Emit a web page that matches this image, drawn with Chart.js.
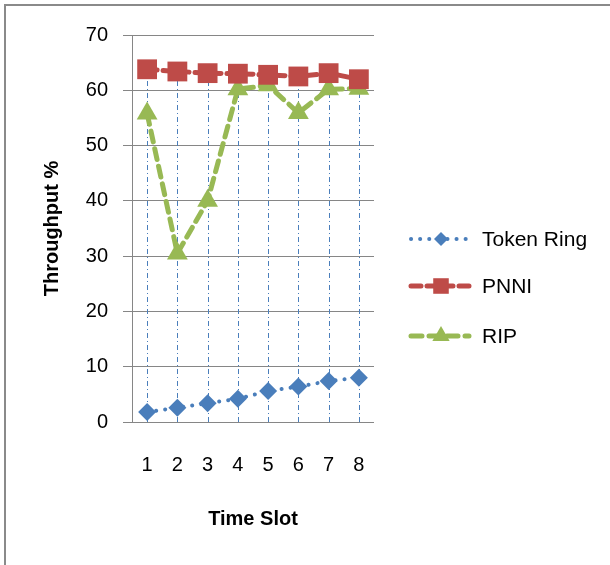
<!DOCTYPE html>
<html><head><meta charset="utf-8">
<script src="https://cdn.jsdelivr.net/npm/chart.js@4/dist/chart.umd.min.js"></script>
<style>
html,body{margin:0;padding:0;background:#fff;}
#wrap{position:relative;width:610px;height:565px;overflow:hidden;}
#frame{position:absolute;left:4px;top:4px;width:700px;height:700px;border-left:2px solid #8a8a8a;border-top:2px solid #8a8a8a;}
canvas{position:absolute;left:0;top:0;}
</style></head><body>
<div id="wrap"><div id="frame"></div><canvas id="c" width="610" height="565"></canvas></div>
<script>
const timeSlots = ['1','2','3','4','5','6','7','8'];
const tokenRing = [1.8, 2.6, 3.4, 4.2, 5.6, 6.4, 7.4, 8.0];
const pnni      = [63.8, 63.4, 63.1, 63.0, 62.8, 62.5, 63.1, 62.0];
const rip       = [55.8, 30.5, 40.0, 60.2, 60.9, 55.9, 60.2, 60.3];
const seriesNames = ['Token Ring', 'PNNI', 'RIP'];
const yMin = 0, yMax = 70, yStep = 10;
const xTitle = 'Time Slot';
const yTitle = 'Throughput %';

const FONT = '"Liberation Sans", Arial, sans-serif';

function drawMarker(ctx, style, x, y, r, color) {
  ctx.save();
  ctx.fillStyle = color;
  ctx.beginPath();
  if (style === 'rectRot') {
    ctx.moveTo(x - r, y); ctx.lineTo(x, y - r); ctx.lineTo(x + r, y); ctx.lineTo(x, y + r);
  } else if (style === 'rect') {
    const s = Math.SQRT1_2 * r;
    ctx.rect(x - s, y - s, 2 * s, 2 * s);
  } else if (style === 'triangle') {
    ctx.moveTo(x, y - r);
    ctx.lineTo(x + 0.866 * r, y + 0.5 * r);
    ctx.lineTo(x - 0.866 * r, y + 0.5 * r);
  }
  ctx.closePath();
  ctx.fill();
  ctx.restore();
}

const dropLines = {
  id: 'dropLines',
  beforeDatasetsDraw(chart) {
    const {ctx, scales: {x, y}} = chart;
    ctx.save();
    ctx.strokeStyle = '#4a7ebb';
    ctx.lineWidth = 1;
    ctx.setLineDash([5, 3, 1, 3]);
    timeSlots.forEach((_, i) => {
      const top = Math.max(...chart.data.datasets.map(d => d.data[i]));
      const px = Math.round(x.getPixelForValue(i)) + 0.5;
      ctx.beginPath();
      ctx.moveTo(px, y.getPixelForValue(yMin));
      ctx.lineTo(px, y.getPixelForValue(top));
      ctx.stroke();
    });
    ctx.restore();
  }
};

const legendRows = [239, 286, 336];
const legendRadius = [7, 11, 10];
const excelLegend = {
  id: 'excelLegend',
  afterDraw(chart) {
    const ctx = chart.ctx;
    chart.data.datasets.forEach((ds, i) => {
      const y = legendRows[i];
      ctx.save();
      ctx.strokeStyle = ds.borderColor;
      ctx.lineWidth = ds.borderWidth;
      ctx.lineCap = ds.borderCapStyle || 'butt';
      ctx.setLineDash(ds.borderDash || []);
      ctx.beginPath();
      ctx.moveTo(411, y); ctx.lineTo(469, y);
      ctx.stroke();
      ctx.setLineDash([]);
      drawMarker(ctx, ds.pointStyle, 441, y, legendRadius[i], ds.pointBackgroundColor);
      ctx.fillStyle = '#000';
      ctx.font = '21px ' + FONT;
      ctx.textBaseline = 'middle';
      ctx.textAlign = 'left';
      ctx.fillText(ds.label, 482, y + 1);
      ctx.restore();
    });
  }
};

new Chart(document.getElementById('c'), {
  type: 'line',
  data: {
    labels: timeSlots,
    datasets: [
      {
        label: seriesNames[0], data: tokenRing,
        borderColor: '#4a7ebb', backgroundColor: '#4a7ebb',
        pointBackgroundColor: '#4a7ebb', pointBorderColor: '#4a7ebb',
        borderWidth: 4, borderDash: [0.1, 9], borderCapStyle: 'round',
        pointStyle: 'rectRot', pointRadius: 9, pointBorderWidth: 0, tension: 0
      },
      {
        label: seriesNames[1], data: pnni,
        borderColor: '#be4b48', backgroundColor: '#be4b48',
        pointBackgroundColor: '#be4b48', pointBorderColor: '#be4b48',
        borderWidth: 5, borderDash: [10, 6], borderCapStyle: 'round',
        pointStyle: 'rect', pointRadius: 14, pointBorderWidth: 0, tension: 0
      },
      {
        label: seriesNames[2], data: rip,
        borderColor: '#98b954', backgroundColor: '#98b954',
        pointBackgroundColor: '#98b954', pointBorderColor: '#98b954',
        borderWidth: 5, borderDash: [11, 7], borderCapStyle: 'round',
        pointStyle: 'triangle', pointRadius: 12, pointBorderWidth: 0, tension: 0
      }
    ]
  },
  options: {
    responsive: false,
    animation: false,
    events: [],
    layout: { padding: { left: 0, right: 236, top: 35, bottom: 0 } },
    plugins: { legend: { display: false }, tooltip: { enabled: false } },
    scales: {
      x: {
        offset: true,
        grid: { display: false, drawTicks: false },
        border: { display: false },
        ticks: { color: '#000', font: { size: 20, family: FONT }, padding: 31 },
        title: { display: true, text: xTitle, color: '#000',
                 font: { size: 20, weight: 'bold', family: FONT }, padding: { top: 0, bottom: 34 } },
        afterFit(s) { s.height = 143; }
      },
      y: {
        min: yMin, max: yMax,
        ticks: { stepSize: yStep, color: '#000', font: { size: 20, family: FONT }, padding: 15 },
        grid: { color: '#868686', lineWidth: 1, tickLength: 9, drawTicks: true },
        border: { color: '#868686' },
        title: { display: true, text: yTitle, color: '#000',
                 font: { size: 20, weight: 'bold', family: FONT }, padding: { top: 40, bottom: 0 } },
        afterFit(s) { s.width = 132; }
      }
    }
  },
  plugins: [dropLines, excelLegend]
});
</script>
</body></html>
